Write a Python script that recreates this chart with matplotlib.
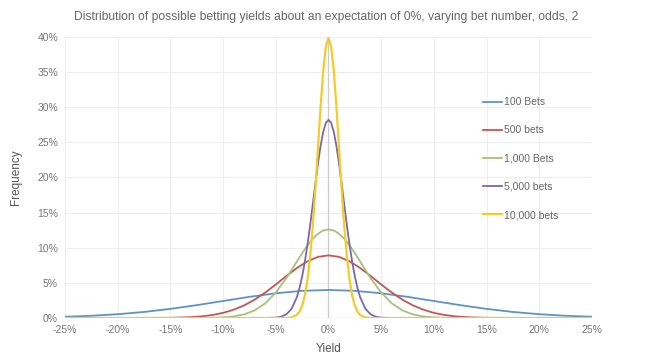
import matplotlib
matplotlib.use("Agg")
import matplotlib.pyplot as plt
from matplotlib.ticker import FuncFormatter

plt.rcParams['font.family'] = ['Liberation Sans', 'DejaVu Sans']

title = "Distribution of possible betting yields about an expectation of 0%, varying bet number, odds, 2"
series_names = ["100 Bets", "500 bets", "1,000 Bets", "5,000 bets", "10,000 bets"]
series_colors = ["#5f93c4", "#c25656", "#a6c27a", "#7b68a6", "#f3cc2c"]

# 100 bets
x_100 = [-25, -22.5, -20, -17.5, -15, -12.5, -10, -7.5, -5, -2.5, 0,
         2.5, 5, 7.5, 10, 12.5, 15, 17.5, 20, 22.5, 25]
y_100 = [0.18, 0.32, 0.54, 0.86, 1.30, 1.83, 2.42, 3.01, 3.52, 3.87, 3.99,
         3.87, 3.52, 3.01, 2.42, 1.83, 1.30, 0.86, 0.54, 0.32, 0.18]

# 500 bets
x_500 = [-25, -20, -15, -14, -13, -12, -11, -10, -9, -8, -7, -6, -5, -4, -3, -2, -1, 0,
         1, 2, 3, 4, 5, 6, 7, 8, 9, 10, 11, 12, 13, 14, 15, 20, 25]
y_500 = [0, 0, 0.03, 0.07, 0.13, 0.24, 0.43, 0.73, 1.18, 1.80, 2.62, 3.63, 4.77, 5.98, 7.12, 8.07, 8.70, 8.92,
         8.70, 8.07, 7.12, 5.98, 4.77, 3.63, 2.62, 1.80, 1.18, 0.73, 0.43, 0.24, 0.13, 0.07, 0.03, 0, 0]

# 1,000 bets
x_1000 = [-25, -15, -12, -11, -10, -9, -8, -7, -6, -5, -4, -3.5, -3, -2.5, -2, -1.5, -1, -0.5, 0,
          0.5, 1, 1.5, 2, 2.5, 3, 3.5, 4, 5, 6, 7, 8, 9, 10, 11, 12, 15, 25]
y_1000 = [0, 0, 0.01, 0.03, 0.08, 0.22, 0.51, 1.09, 2.09, 3.62, 5.67, 6.84, 8.05, 9.23, 10.33, 11.28, 12.00, 12.46, 12.62,
          12.46, 12.00, 11.28, 10.33, 9.23, 8.05, 6.84, 5.67, 3.62, 2.09, 1.09, 0.51, 0.22, 0.08, 0.03, 0.01, 0, 0]

# 5,000 bets
x_5000 = [-25, -6, -5, -4.5, -4, -3.5, -3, -2.75, -2.5, -2.25, -2, -1.75, -1.5, -1.25, -1, -0.75, -0.5, -0.25, 0,
          0.25, 0.5, 0.75, 1, 1.25, 1.5, 1.75, 2, 2.25, 2.5, 2.75, 3, 3.5, 4, 4.5, 5, 6, 25]
y_5000 = [0, 0, 0.05, 0.18, 0.52, 1.32, 2.97, 4.26, 5.91, 7.96, 10.38, 13.12, 16.07, 19.09, 21.97, 24.51, 26.50, 27.77, 28.21,
          27.77, 26.50, 24.51, 21.97, 19.09, 16.07, 13.12, 10.38, 7.96, 5.91, 4.26, 2.97, 1.32, 0.52, 0.18, 0.05, 0, 0]

# 10,000 bets
x_10000 = [-25, -5, -4, -3.5, -3, -2.75, -2.5, -2.25, -2, -1.75, -1.5, -1.25, -1, -0.75, -0.5, -0.25, 0,
           0.25, 0.5, 0.75, 1, 1.25, 1.5, 1.75, 2, 2.25, 2.5, 2.75, 3, 3.5, 4, 5, 25]
y_10000 = [0, 0, 0.01, 0.09, 0.44, 0.91, 1.75, 3.17, 5.40, 8.63, 12.95, 18.26, 24.20, 30.11, 35.21, 38.67, 39.89,
           38.67, 35.21, 30.11, 24.20, 18.26, 12.95, 8.63, 5.40, 3.17, 1.75, 0.91, 0.44, 0.09, 0.01, 0, 0]

xs = [x_100, x_500, x_1000, x_5000, x_10000]
ys = [y_100, y_500, y_1000, y_5000, y_10000]
widths = [1.3, 1.3, 1.3, 1.3, 1.6]

x_ticks = [-25, -20, -15, -10, -5, 0, 5, 10, 15, 20, 25]
y_ticks = [0, 5, 10, 15, 20, 25, 30, 35, 40]

fig = plt.figure(figsize=(6.58, 3.63), dpi=100)
ax = fig.add_axes([65/658, 1 - 318/363, (592-65)/658, (318-37)/363])

for s in ax.spines.values():
    s.set_visible(False)

ax.set_xlim(-25, 25)
ax.set_ylim(0, 40)
ax.set_xticks(x_ticks)
ax.set_yticks(y_ticks)
ax.xaxis.set_major_formatter(FuncFormatter(lambda v, p: f"{v:.0f}%"))
ax.yaxis.set_major_formatter(FuncFormatter(lambda v, p: f"{v:.0f}%"))
ax.tick_params(length=0, labelsize=7.5, colors="#777777", pad=5)
ax.grid(True, color="#eeeeee", linewidth=0.8)
ax.set_axisbelow(True)
ax.axhline(0, color="#cccccc", linewidth=0.9, zorder=1)
ax.axvline(0, color="#cccccc", linewidth=0.9, zorder=1)

for x, y, c, n, w in zip(xs, ys, series_colors, series_names, widths):
    ax.plot(x, y, color=c, linewidth=w, label=n, zorder=3)

ax.set_xlabel("Yield", fontsize=8.5, color="#555555", labelpad=6)
ax.set_ylabel("Frequency", fontsize=8.5, color="#555555", labelpad=11)
fig.text(326/658, 1 - 17/363, title, ha="center", va="center", fontsize=8.7, color="#666666")

leg = ax.legend(loc="upper left", bbox_to_anchor=(478/658, 1 - 92/363), bbox_transform=fig.transFigure,
                frameon=False, fontsize=7.5, handlelength=1.8, handletextpad=0.15, labelspacing=1.75,
                borderpad=0)
for t in leg.get_texts():
    t.set_color("#666666")

fig.savefig("out.png", dpi=100)
